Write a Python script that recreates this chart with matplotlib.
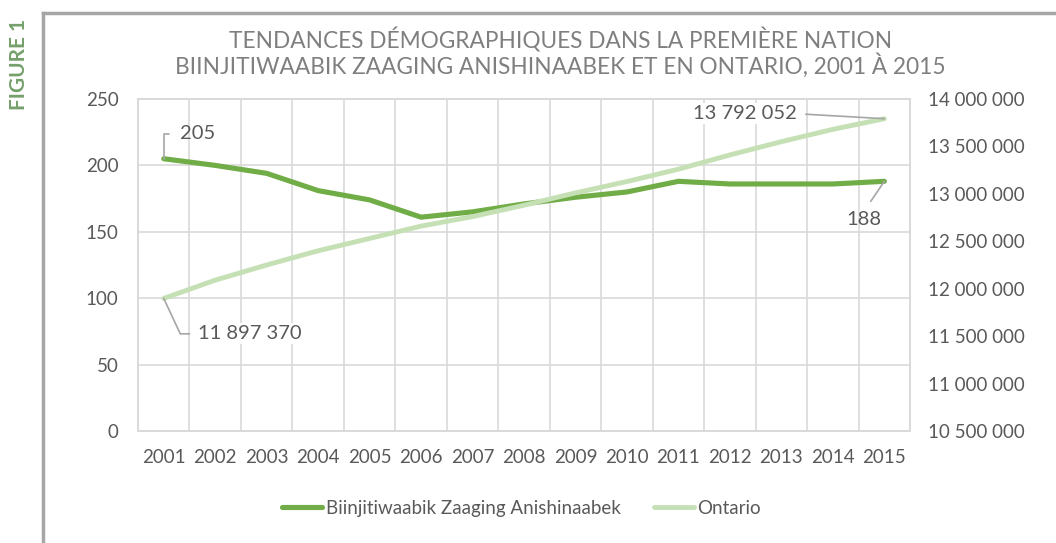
import matplotlib
matplotlib.use("Agg")
import matplotlib.pyplot as plt
from matplotlib.lines import Line2D
from matplotlib.ticker import FuncFormatter, MultipleLocator

years = [2001, 2002, 2003, 2004, 2005, 2006, 2007, 2008, 2009, 2010, 2011, 2012, 2013, 2014, 2015]
bza_pop = [205, 200, 194, 181, 174, 161, 165, 171, 176, 180, 188, 186, 186, 186, 188]
ontario_pop = [11897370, 12090000, 12250000, 12400000, 12530000, 12660000, 12760000, 12880000,
               13010000, 13130000, 13260000, 13410000, 13550000, 13680000, 13792052]

series_names = ['Biinjitiwaabik Zaaging Anishinaabek', 'Ontario']
title = 'TENDANCES DÉMOGRAPHIQUES DANS LA PREMIÈRE NATION\nBIINJITIWAABIK ZAAGING ANISHINAABEK ET EN ONTARIO, 2001 À 2015'

dark_green = '#70ad47'
light_green = '#c5e0b4'
text_gray = '#595959'
grid_gray = '#d9d9d9'
leader_gray = '#a6a6a6'

plt.rcParams['font.family'] = ['Lato', 'DejaVu Sans']


def spaced(v, pos=None):
    return f'{int(round(v)):,}'.replace(',', ' ')


fig = plt.figure(figsize=(10.56, 5.43), dpi=100)
ax = fig.add_axes([0.1307, 0.2063, 0.7311, 0.6114])
ax2 = ax.twinx()

ax.plot(years, bza_pop, color=dark_green, lw=3.7, solid_capstyle='round',
        solid_joinstyle='round', label=series_names[0], zorder=3)
ax2.plot(years, ontario_pop, color=light_green, lw=3.5, solid_capstyle='round',
         solid_joinstyle='round', label=series_names[1], zorder=3)

ax.set_xlim(years[0] - 0.5, years[-1] + 0.5)
ax.set_ylim(0, 250)
ax2.set_ylim(10500000, 14000000)
ax.set_xticks(years)
ax.xaxis.set_minor_locator(MultipleLocator(1, offset=0.5))
ax.yaxis.set_major_locator(MultipleLocator(50))
ax2.yaxis.set_major_locator(MultipleLocator(500000))
ax2.yaxis.set_major_formatter(FuncFormatter(spaced))

ax.grid(axis='y', which='major', color=grid_gray, lw=1.2)
ax.grid(axis='x', which='minor', color=grid_gray, lw=1.2)
ax.set_axisbelow(True)

for a in (ax, ax2):
    for s in a.spines.values():
        s.set_color(grid_gray)
        s.set_linewidth(1.2)
    a.tick_params(which='both', length=0, labelsize=13.5, labelcolor=text_gray)
ax.tick_params(axis='y', pad=14)
ax.tick_params(axis='x', pad=13)
ax2.tick_params(axis='y', pad=13)

# data labels
ax.annotate(str(bza_pop[0]), xy=(years[0], bza_pop[0]), xytext=(12, 18), textcoords='offset points',
            ha='left', va='center', fontsize=14.5, color=text_gray,
            arrowprops=dict(arrowstyle='-', color=leader_gray, lw=1.2, relpos=(0, 0.5),
                            shrinkA=6, shrinkB=0, connectionstyle='angle,angleA=0,angleB=90,rad=0'))
ax.annotate(str(bza_pop[-1]), xy=(years[-1], bza_pop[-1]), xytext=(-14.5, -27.5), textcoords='offset points',
            ha='center', va='center', fontsize=14.5, color=text_gray,
            arrowprops=dict(arrowstyle='-', color=leader_gray, lw=1.2, relpos=(0.5, 1),
                            shrinkA=6, shrinkB=0))
ax2.annotate(spaced(ontario_pop[0]), xy=(years[0], ontario_pop[0]), xytext=(25, -25.5), textcoords='offset points',
             ha='left', va='center', fontsize=14.5, color=text_gray,
             bbox=dict(boxstyle='square,pad=0.1', fc='white', ec='none'),
             arrowprops=dict(arrowstyle='-', color=leader_gray, lw=1.2, relpos=(0, 0.5),
                             shrinkA=5, shrinkB=0, connectionstyle='angle,angleA=0,angleB=-65,rad=0'))
ax2.annotate(spaced(ontario_pop[-1]), xy=(years[-1], ontario_pop[-1]), xytext=(-63, 3.6), textcoords='offset points',
             ha='right', va='center', fontsize=14.5, color=text_gray,
             bbox=dict(boxstyle='square,pad=0.1', fc='white', ec='none'),
             arrowprops=dict(arrowstyle='-', color=leader_gray, lw=1.2, relpos=(1, 0.5),
                             shrinkA=5, shrinkB=0))

h1, l1 = ax.get_legend_handles_labels()
h2, l2 = ax2.get_legend_handles_labels()
leg = fig.legend(h1 + h2, l1 + l2, loc='center', bbox_to_anchor=(0.494, 0.064), ncol=2, frameon=False,
                 fontsize=13.5, handlelength=2.1, handletextpad=0.2, columnspacing=1.8)
for t in leg.get_texts():
    t.set_color(text_gray)

fig.text(0.531, 0.903, title, ha='center', va='center', fontsize=16.3, color='#7f7f7f', linespacing=1.0)
fig.text(0.018, 0.882, 'FIGURE 1', rotation=90, ha='center', va='center', fontsize=15,
         fontweight='bold', color='#75a06b')

# page frame
fig.add_artist(Line2D([0.041, 0.041], [0, 0.976], color=leader_gray, lw=2.5))
fig.add_artist(Line2D([0.041, 1.0], [0.976, 0.976], color=leader_gray, lw=2.5))

fig.savefig('out.png', dpi=100)
